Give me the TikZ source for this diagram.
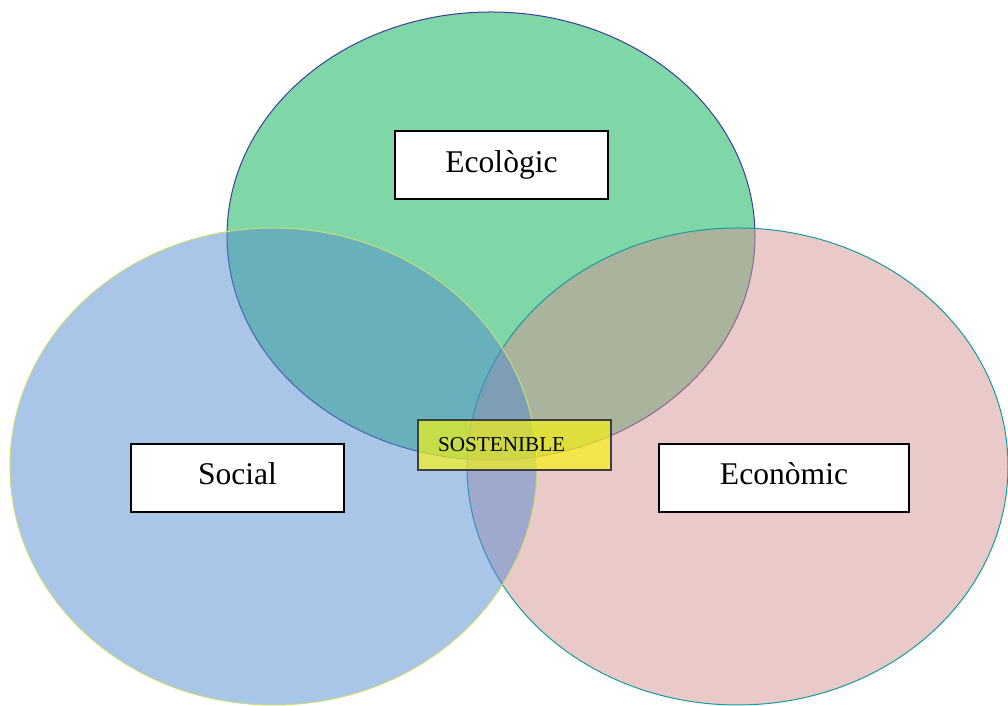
\documentclass[tikz,border=0pt]{standalone}
\usepackage{fontspec}
\setmainfont{Liberation Serif}
\usepackage{xcolor}
\usetikzlibrary{positioning}
\definecolor{ecogreen}{RGB}{0,173,77}
\definecolor{socblue}{RGB}{83,139,209}
\definecolor{ecopink}{RGB}{213,147,147}
\definecolor{sostyellow}{RGB}{251,246,12}
\definecolor{greenline}{RGB}{60,60,160}
\definecolor{blueline}{RGB}{200,220,120}
\definecolor{pinkline}{RGB}{20,155,160}
\tikzset{>=latex}
\tikzset{
  area/.style={fill opacity=0.5, line width=0.5pt},
  labelbox/.style={draw=black, fill=white, line width=1pt, minimum height=34pt,
    text height=11pt, text depth=4pt, font=\fontsize{15.8}{18}\selectfont},
  sostbox/.style={draw=black!75, fill=sostyellow, fill opacity=0.65, text opacity=1,
    line width=0.7pt, minimum height=25pt, text width=76.5pt, inner xsep=10pt,
    align=left, font=\fontsize{10.6}{12}\selectfont}
}

\begin{document}
\begin{tikzpicture}[x=0.5pt,y=0.5pt]
  \useasboundingbox (0,0) rectangle (1008,706);

  % Circles
  \draw[area,draw=greenline,fill=ecogreen] (491,470) ellipse [x radius=264, y radius=224];
  \draw[area,draw=pinkline,fill=ecopink] (737.5,239.5) ellipse [x radius=270.5, y radius=238.5];
  \draw[area,draw=blueline,fill=socblue] (273.5,239.5) ellipse [x radius=263.5, y radius=238.5];

  % Labels
  \node[labelbox, minimum width=106.5pt] (ecologic) at (501.5,540.5) {Ecològic};
  \node[labelbox, minimum width=106.5pt] (social) at (237.5,228) {Social};
  \node[labelbox, minimum width=125pt] (economic) at (784,228) {Econòmic};
  \node[sostbox] (sostenible) at (514.5,261) {SOSTENIBLE};
\end{tikzpicture}
\end{document}
